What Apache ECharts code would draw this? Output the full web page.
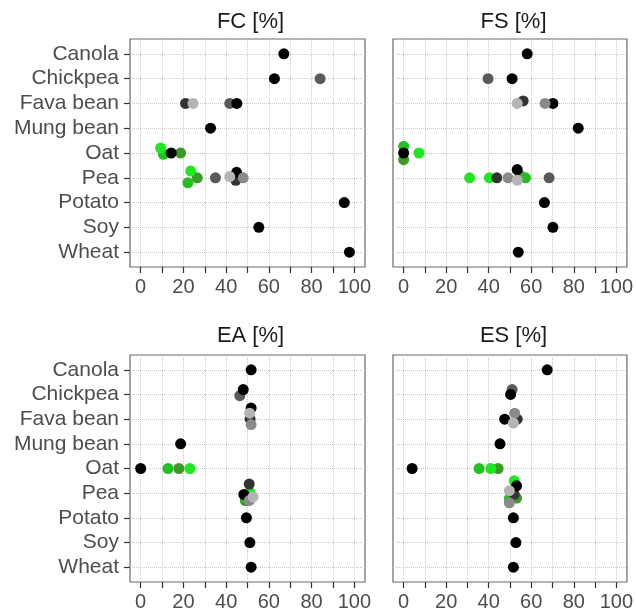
<!DOCTYPE html>
<html>
<head>
<meta charset="utf-8">
<script src="https://cdn.jsdelivr.net/npm/echarts@6/dist/echarts.min.js"></script>
<style>html,body{margin:0;padding:0;background:#fff;}#c{width:636px;height:614px;}</style>
</head>
<body>
<div id="c"></div>
<script>
// ---------------- data ----------------
const categories = ['Canola', 'Chickpea', 'Fava bean', 'Mung bean', 'Oat', 'Pea', 'Potato', 'Soy', 'Wheat'];
const panelTitles = ['FC [%]', 'FS [%]', 'EA [%]', 'ES [%]'];
const xMajorTicks = [0, 20, 40, 60, 80, 100];
const xMinorTicks = [0, 10, 20, 30, 40, 50, 60, 70, 80, 90, 100];

// each point: [panelIndex, category, value, verticalJitter]
const blackPts = [
  [0, 'Canola', 67], [0, 'Chickpea', 62.6], [0, 'Fava bean', 45], [0, 'Mung bean', 32.7], [0, 'Oat', 14.3],
  [0, 'Pea', 44.9, -0.22], [0, 'Potato', 95.3], [0, 'Soy', 55.3], [0, 'Wheat', 97.7],
  [1, 'Canola', 58.1], [1, 'Chickpea', 51], [1, 'Fava bean', 70.2], [1, 'Mung bean', 82.1], [1, 'Oat', 0],
  [1, 'Pea', 53.4, -0.33], [1, 'Potato', 66.2], [1, 'Soy', 70.2], [1, 'Wheat', 53.9],
  [2, 'Canola', 51.7], [2, 'Chickpea', 48, -0.2], [2, 'Fava bean', 51.7, -0.45], [2, 'Mung bean', 18.7], [2, 'Oat', 0],
  [2, 'Pea', 48.3, 0.05], [2, 'Potato', 49.5], [2, 'Soy', 51.1], [2, 'Wheat', 51.7],
  [3, 'Canola', 67.5], [3, 'Chickpea', 50.3], [3, 'Fava bean', 47.5], [3, 'Mung bean', 45.3], [3, 'Oat', 4],
  [3, 'Pea', 53.1, -0.3], [3, 'Potato', 51.6], [3, 'Soy', 52.8], [3, 'Wheat', 51.6]
];
const darkGreyPts = [
  [0, 'Fava bean', 21], [0, 'Pea', 44.5, 0.1],
  [1, 'Fava bean', 56.2, -0.1], [1, 'Pea', 43.8],
  [2, 'Fava bean', 51.2], [2, 'Pea', 50.8, -0.37],
  [3, 'Fava bean', 53.4], [3, 'Pea', 52, 0.05]
];
const midDarkGreyPts = [
  [0, 'Chickpea', 84], [0, 'Fava bean', 41.7], [0, 'Pea', 35],
  [1, 'Chickpea', 39.7], [1, 'Pea', 68.4],
  [2, 'Chickpea', 46.4, 0.05],
  [3, 'Chickpea', 51, -0.2]
];
const greyPts = [
  [0, 'Pea', 48],
  [1, 'Fava bean', 66.5], [1, 'Pea', 49.1],
  [2, 'Fava bean', 51.7, 0.22], [2, 'Pea', 50.8, 0.3],
  [3, 'Fava bean', 52.2, -0.24], [3, 'Pea', 49.7, 0.39]
];
const lightGreyPts = [
  [0, 'Fava bean', 24.5], [0, 'Pea', 41.7, -0.05],
  [1, 'Fava bean', 53.4], [1, 'Pea', 53.4, 0.1],
  [2, 'Fava bean', 51, -0.24], [2, 'Pea', 52.6, 0.15],
  [3, 'Fava bean', 51.6, 0.16], [3, 'Pea', 49.7, -0.1]
];
const brightGreenPts = [
  [0, 'Oat', 9.3, -0.2], [0, 'Pea', 23.4, -0.27],
  [1, 'Oat', 7.2], [1, 'Pea', 31], [1, 'Pea', 40.3],
  [2, 'Oat', 23], [2, 'Pea', 51, -0.05],
  [3, 'Oat', 41], [3, 'Pea', 52, -0.5]
];
const midGreenPts = [
  [0, 'Oat', 10.6, 0.05], [0, 'Pea', 22.1, 0.2],
  [1, 'Oat', 0, -0.27], [1, 'Pea', 57.3],
  [2, 'Oat', 12.8], [2, 'Pea', 49, 0.15],
  [3, 'Oat', 35.5], [3, 'Pea', 49.7, 0.22]
];
const darkGreenPts = [
  [0, 'Oat', 18.7], [0, 'Pea', 26.5],
  [1, 'Oat', 0, 0.27], [1, 'Pea', 54.7, -0.1],
  [2, 'Oat', 17.9], [2, 'Pea', 49, 0.3],
  [3, 'Oat', 44.4], [3, 'Pea', 53.1, 0.2]
];

// ---------------- layout / style ----------------
const groups = [
  { pts: darkGreenPts, color: '#3c9a28' },
  { pts: midGreenPts, color: '#22c022' },
  { pts: brightGreenPts, color: '#22e622' },
  { pts: darkGreyPts, color: '#333333' },
  { pts: midDarkGreyPts, color: '#5a5a5a' },
  { pts: blackPts, color: '#000000' },
  { pts: greyPts, color: '#8a8a8a' },
  { pts: lightGreyPts, color: '#b4b4b4' }
];
const panelBoxes = [
  { left: 130, top: 39, width: 235, height: 228 },
  { left: 393, top: 39, width: 235, height: 228 },
  { left: 130, top: 355, width: 235, height: 227 },
  { left: 393, top: 355, width: 235, height: 227 }
];
const titleTops = [6, 6, 320, 320];
const FONT = 'Liberation Sans, Arial, sans-serif';

const grid = [], xAxis = [], yAxis = [], series = [], title = [];
panelBoxes.forEach((b, i) => {
  grid.push({ left: b.left, top: b.top, width: b.width, height: b.height, show: true,
    borderColor: '#6a6a6a', borderWidth: 1.2, backgroundColor: '#fff', containLabel: false });
  title.push({ text: panelTitles[i], left: b.left + b.width / 2 - 2, top: titleTops[i], textAlign: 'center',
    textStyle: { fontFamily: FONT, fontSize: 22, fontWeight: 'normal', color: '#1a1a1a' } });
  xAxis.push({ type: 'value', gridIndex: i, min: -5, max: 105, position: 'bottom',
    axisLine: { show: false, onZero: false },
    axisTick: { show: true, length: 6, lineStyle: { color: '#333', width: 1.2 }, customValues: xMinorTicks },
    axisLabel: { show: true, customValues: xMajorTicks, fontFamily: FONT, fontSize: 20, color: '#4d4d4d', margin: 10 },
    splitLine: { show: false } });
  const showY = (i % 2 === 0);
  yAxis.push({ type: 'value', gridIndex: i, min: -0.6, max: 8.6, inverse: true, position: 'left',
    axisLine: { show: false, onZero: false },
    axisTick: { show: showY, length: 6, lineStyle: { color: '#333', width: 1.2 }, customValues: categories.map((c, k) => k) },
    axisLabel: { show: showY, customValues: categories.map((c, k) => k), formatter: v => categories[Math.round(v)] || '',
      fontFamily: FONT, fontSize: 21, color: '#4d4d4d', margin: 11 },
    splitLine: { show: false } });
  // grid lines drawn through the axes' scales
  series.push({ type: 'scatter', xAxisIndex: i, yAxisIndex: i, data: [], z: 1, silent: true,
    markLine: { silent: true, symbol: 'none', z: 1, animation: false, label: { show: false },
      lineStyle: { type: 'dotted', color: '#c8c8c8', width: 1 },
      data: xMinorTicks.map(v => ({ xAxis: v })).concat(categories.map((c, k) => ({ yAxis: k }))) } });
  groups.forEach(g => {
    series.push({ type: 'scatter', xAxisIndex: i, yAxisIndex: i, z: 10, clip: false, animation: false,
      symbolSize: 11, itemStyle: { color: g.color, opacity: 1 },
      data: g.pts.filter(p => p[0] === i).map(p => [p[2], categories.indexOf(p[1]) + (p[3] || 0)]) });
  });
});

const chart = echarts.init(document.getElementById('c'), null, { renderer: 'canvas' });
chart.setOption({ animation: false, backgroundColor: '#fff', title, grid, xAxis, yAxis, series });
</script>
</body>
</html>
